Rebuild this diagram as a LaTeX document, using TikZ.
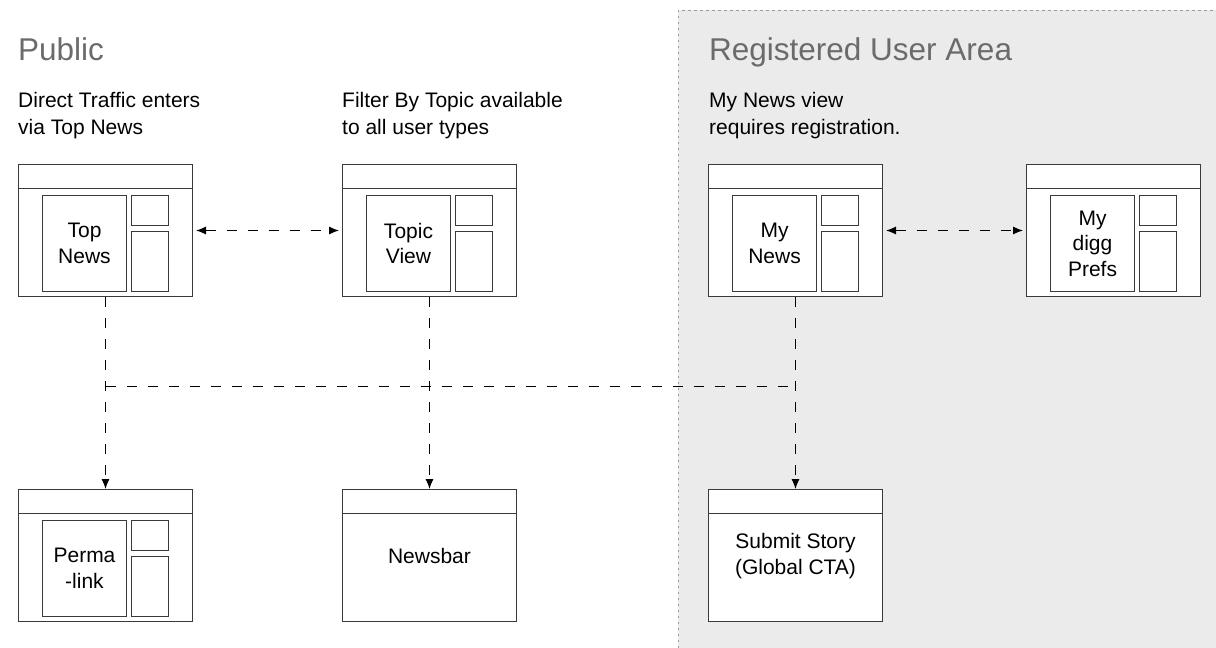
\documentclass[tikz,border=0pt]{standalone}
\usepackage{fontspec}
\setmainfont{Liberation Sans}
\usetikzlibrary{arrows.meta,calc}

\definecolor{areagray}{HTML}{EBEBEB}
\definecolor{edgegray}{HTML}{9A9A9A}
\definecolor{headgray}{HTML}{6B6B6B}
\definecolor{linegray}{HTML}{3A3A3A}

\tikzset{
  win/.style={draw=linegray, fill=white, line width=1pt, anchor=north west, minimum width=174pt, minimum height=132pt, inner sep=0pt},
  pane/.style={draw=linegray, fill=white, line width=1pt, anchor=north west, inner sep=0pt},
  wintext/.style={align=center, font=\fontsize{21}{25.5}\selectfont},
  heading/.style={anchor=base west, inner sep=0pt, text=headgray, font=\fontsize{31.5}{36}\selectfont},
  note/.style={anchor=base west, inner sep=0pt, align=left, font=\fontsize{21}{27}\selectfont},
  flow/.style={line width=1pt, dash pattern=on 10pt off 11pt},
  tip/.tip={Latex[length=10pt,width=8pt]}
}

\begin{document}
\begin{tikzpicture}[x=1pt,y=-1pt]
\useasboundingbox (0,0) rectangle (1216,648);
\fill[areagray] (678,10) rectangle (1216,648);
\draw[edgegray, line width=1pt, dash pattern=on 2.5pt off 3.5pt] (678,648) -- (678,10) -- (1216,10);

\node[heading] (public) at (18,60) {Public};
\node[heading] (registered) at (709,60) {Registered User Area};
\node[note] (directnote) at (18,134) {Direct Traffic enters\\via Top News};
\node[note] (topicnote) at (342,134) {Filter By Topic available\\to all user types};
\node[note] (regnote) at (709,134) {My News view\\requires registration.};

\node[win] (topnews) at (18,164) {};
\node[win] (topic) at (342,164) {};
\node[win] (mynews) at (708,164) {};
\node[win] (prefs) at (1026,164) {};
\node[win] (perma) at (18,489) {};
\node[win] (newsbar) at (342,489) {};
\node[win] (submit) at (708,489) {};

\foreach \w in {topnews,topic,mynews,prefs,perma,newsbar,submit}
  \draw[linegray, line width=1pt] ([yshift=-24pt]\w.north west) -- ([yshift=-24pt]\w.north east);

\foreach \w/\t in {topnews/{Top\\News}, topic/{Topic\\View}, mynews/{My\\News}, prefs/{My\\digg\\Prefs}, perma/{Perma\\-link}} {
  \node[pane, wintext, minimum width=84pt, minimum height=96pt] (\w-main) at ([xshift=24pt,yshift=-31pt]\w.north west) {\t};
  \node[pane, minimum width=37pt, minimum height=30pt] (\w-side) at ([xshift=113pt,yshift=-31pt]\w.north west) {};
  \node[pane, minimum width=37pt, minimum height=60pt] (\w-ads) at ([xshift=113pt,yshift=-67pt]\w.north west) {};
}

\node[wintext] (newsbar-text) at ([yshift=-67pt]newsbar.north) {Newsbar};
\node[wintext] (submit-text) at ([yshift=-67pt]submit.north) {Submit Story\\(Global CTA)};

\draw[flow, tip-tip, shorten <=3pt, shorten >=3pt] (topnews) -- (topic);
\draw[flow, tip-tip, shorten <=3pt, shorten >=3pt] (mynews) -- (prefs);
\draw[flow, -tip] (topnews) -- (perma);
\draw[flow, -tip] (topic) -- (newsbar);
\draw[flow, -tip] (mynews) -- (submit);
\coordinate (junction) at ($(topnews.south)+(0,89)$);
\draw[flow] (junction) -- (junction -| mynews.south);
\end{tikzpicture}
\end{document}
